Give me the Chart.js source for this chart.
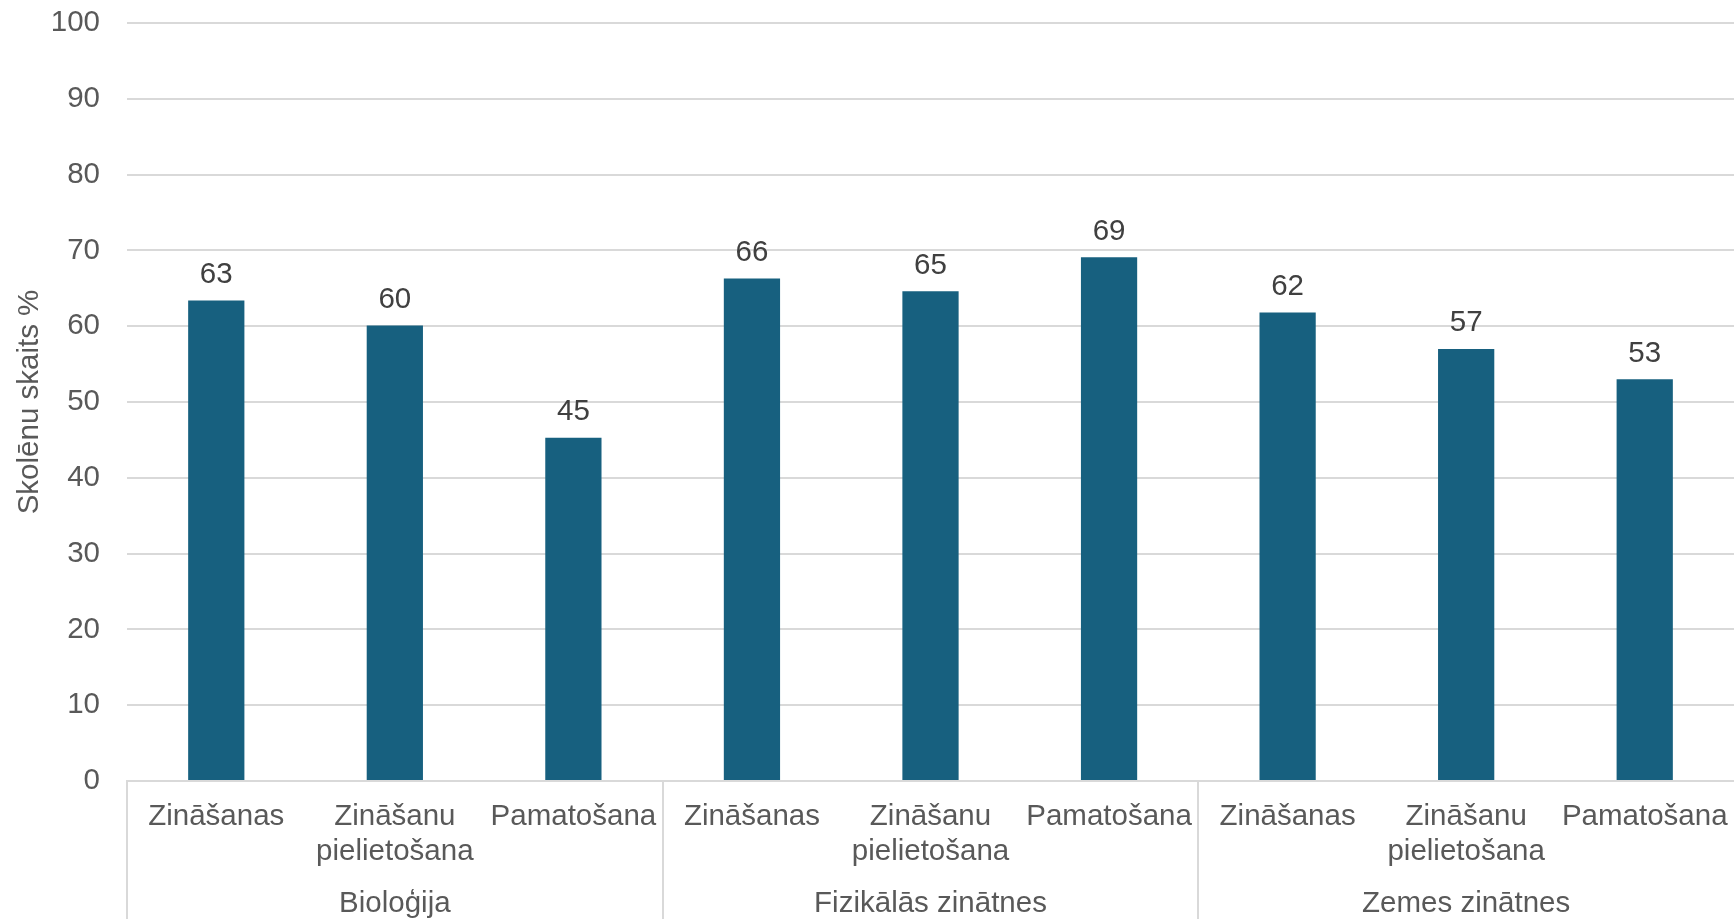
<!DOCTYPE html>
<html>
<head>
<meta charset="utf-8">
<script src="https://cdn.jsdelivr.net/npm/chart.js@4"></script>
<style>
  html, body { margin: 0; padding: 0; background: #fff; }
  #wrap { width: 1734px; height: 919px; }
</style>
</head>
<body>
<div id="wrap"><canvas id="myChart1" width="1734" height="919"></canvas></div>
<script>
const categories = ['Zināšanas', ['Zināšanu', 'pielietošana'], 'Pamatošana',
                    'Zināšanas', ['Zināšanu', 'pielietošana'], 'Pamatošana',
                    'Zināšanas', ['Zināšanu', 'pielietošana'], 'Pamatošana'];
const groups = ['Bioloģija', 'Fizikālās zinātnes', 'Zemes zinātnes'];
const values = [63.4, 60.1, 45.3, 66.3, 64.6, 69.1, 61.8, 57.0, 53.0];
const yTicks = [0, 10, 20, 30, 40, 50, 60, 70, 80, 90, 100];

const gridColor = '#d9d9d9';
const font = 'Liberation Sans, Arial, sans-serif';
const fontSize = 29.5;

// value labels above each bar
const barLabels = {
  id: 'barLabels',
  afterDatasetsDraw(chart) {
    const ctx = chart.ctx;
    const meta = chart.getDatasetMeta(0);
    ctx.save();
    ctx.font = fontSize + 'px ' + font;
    ctx.fillStyle = '#404040';
    ctx.textAlign = 'center';
    ctx.textBaseline = 'bottom';
    meta.data.forEach((bar, i) => {
      ctx.fillText(Math.round(values[i]), bar.x, bar.y - 11);
    });
    ctx.restore();
  }
};

// vertical lines between the groups, under the axis
const groupLines = {
  id: 'groupLines',
  afterDraw(chart) {
    const ctx = chart.ctx;
    const x = chart.scales.x;
    const w = x.width / categories.length;
    ctx.save();
    ctx.strokeStyle = gridColor;
    ctx.lineWidth = 2;
    [0, 3, 6].forEach(i => {
      const px = Math.round(x.left + w * i);
      ctx.beginPath();
      ctx.moveTo(px, chart.chartArea.bottom);
      ctx.lineTo(px, chart.height);
      ctx.stroke();
    });
    ctx.restore();
  }
};

new Chart(document.getElementById('myChart1'), {
  type: 'bar',
  data: {
    labels: categories,
    datasets: [{
      data: values,
      backgroundColor: '#17607f',
      categoryPercentage: 1,
      barPercentage: 0.315
    }]
  },
  options: {
    responsive: false,
    animation: false,
    layout: { padding: 0 },
    plugins: {
      legend: { display: false },
      tooltip: { enabled: false }
    },
    scales: {
      y: {
        min: 0,
        max: 100,
        afterBuildTicks(scale) {
          scale.ticks = yTicks.map(v => ({ value: v }));
        },
        afterFit(scale) {
          scale.width = 127;
          scale.paddingTop = 23;
          scale.paddingBottom = 0;
        },
        grid: { color: gridColor, lineWidth: 2, drawTicks: false },
        border: { display: false },
        ticks: { color: '#595959', font: { family: font, size: fontSize }, padding: 27 },
        title: {
          display: true,
          text: 'Skolēnu skaits %',
          color: '#595959',
          font: { family: font, size: fontSize },
          padding: { top: 12, bottom: 0 }
        }
      },
      x: {
        afterFit(scale) {
          scale.height = 86;
          scale.paddingLeft = 0;
          scale.paddingRight = 0;
        },
        grid: { display: false, drawTicks: false },
        border: { display: true, color: gridColor, width: 2 },
        ticks: {
          color: '#595959',
          font: { family: font, size: fontSize, lineHeight: 1.2 },
          padding: 18,
          maxRotation: 0,
          autoSkip: false
        }
      },
      x2: {
        type: 'category',
        position: 'bottom',
        labels: groups,
        afterFit(scale) {
          scale.height = 52;
          scale.paddingLeft = 0;
          scale.paddingRight = 0;
        },
        grid: { display: false, drawTicks: false },
        border: { display: false },
        ticks: {
          color: '#595959',
          font: { family: font, size: fontSize, lineHeight: 1.0 },
          padding: 22,
          maxRotation: 0
        }
      }
    }
  },
  plugins: [barLabels, groupLines]
});
</script>
</body>
</html>
